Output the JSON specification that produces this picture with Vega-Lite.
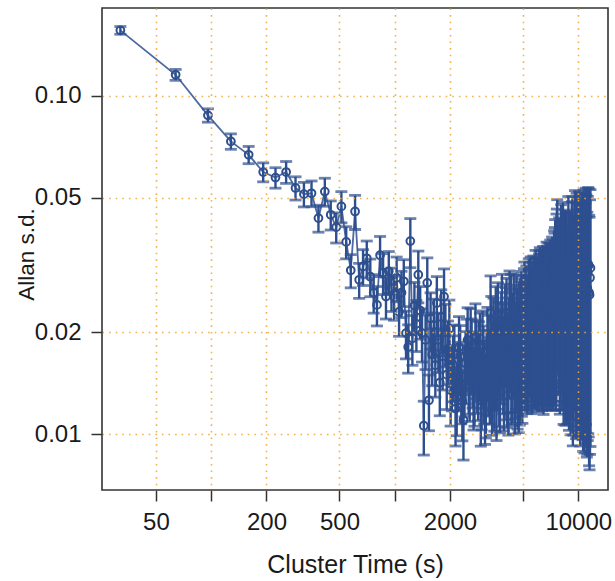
{
"$schema": "https://vega.github.io/schema/vega-lite/v6.json",
"width": 506, "height": 482,
"autosize": {"type": "none"},
"padding": {"left": 102, "top": 8, "right": 7, "bottom": 91},
"background": "white",
"data": {"values": [
{"t":32,"adev":0.156,"err":0.0041},{"t":64,"adev":0.1153,"err":0.00427},{"t":96,"adev":0.0875,"err":0.00397},{"t":128,"adev":0.0733,"err":0.00384},
{"t":160,"adev":0.0669,"err":0.00392},{"t":192,"adev":0.0595,"err":0.00383},{"t":224,"adev":0.0573,"err":0.00398},{"t":256,"adev":0.0595,"err":0.00442},
{"t":288,"adev":0.0534,"err":0.00421},{"t":320,"adev":0.0512,"err":0.00426},{"t":352,"adev":0.0515,"err":0.0045},{"t":384,"adev":0.0435,"err":0.00397},
{"t":416,"adev":0.0521,"err":0.00495},{"t":448,"adev":0.0445,"err":0.00439},{"t":480,"adev":0.0409,"err":0.00418},{"t":512,"adev":0.0471,"err":0.00498},
{"t":544,"adev":0.037,"err":0.00403},{"t":576,"adev":0.0305,"err":0.00343},{"t":608,"adev":0.0455,"err":0.00525},{"t":640,"adev":0.0286,"err":0.00339},
{"t":672,"adev":0.0313,"err":0.0038},{"t":704,"adev":0.0331,"err":0.00412},{"t":736,"adev":0.0292,"err":0.00372},{"t":768,"adev":0.0262,"err":0.00341},
{"t":800,"adev":0.0241,"err":0.00321},{"t":832,"adev":0.0338,"err":0.00459},{"t":864,"adev":0.03,"err":0.00415},{"t":896,"adev":0.0255,"err":0.0036},
{"t":928,"adev":0.0303,"err":0.00435},{"t":960,"adev":0.027,"err":0.00395},{"t":992,"adev":0.0255,"err":0.00379},{"t":1024,"adev":0.029,"err":0.00438},
{"t":1056,"adev":0.023,"err":0.00353},{"t":1088,"adev":0.0262,"err":0.00409},{"t":1120,"adev":0.0283,"err":0.00448},{"t":1152,"adev":0.0199,"err":0.0032},
{"t":1184,"adev":0.0181,"err":0.00295},{"t":1216,"adev":0.0372,"err":0.00616},{"t":1248,"adev":0.0192,"err":0.00322},{"t":1280,"adev":0.024,"err":0.00408},
{"t":1312,"adev":0.0212,"err":0.00365},{"t":1344,"adev":0.0296,"err":0.00516},{"t":1376,"adev":0.0232,"err":0.0041},{"t":1408,"adev":0.0199,"err":0.00356},
{"t":1440,"adev":0.0106,"err":0.00192},{"t":1472,"adev":0.019,"err":0.00348},{"t":1504,"adev":0.028,"err":0.00519},{"t":1536,"adev":0.0126,"err":0.00236},
{"t":1568,"adev":0.022,"err":0.00417},{"t":1600,"adev":0.0172,"err":0.00329},{"t":1632,"adev":0.021,"err":0.00406},{"t":1664,"adev":0.016,"err":0.00313},
{"t":1696,"adev":0.0244,"err":0.00482},{"t":1728,"adev":0.019,"err":0.00379},{"t":1760,"adev":0.0142,"err":0.00286},{"t":1792,"adev":0.0222,"err":0.00452},
{"t":1824,"adev":0.017,"err":0.00349},{"t":1856,"adev":0.0255,"err":0.00529},{"t":1888,"adev":0.02,"err":0.00419},{"t":1920,"adev":0.015,"err":0.00317},
{"t":1984,"adev":0.0205,"err":0.00441},{"t":2048,"adev":0.015,"err":0.00328},{"t":2112,"adev":0.0172,"err":0.00383},{"t":2176,"adev":0.0128,"err":0.0029},
{"t":2240,"adev":0.0181,"err":0.00416},{"t":2304,"adev":0.014,"err":0.00327},{"t":2368,"adev":0.011,"err":0.00261},{"t":2432,"adev":0.0162,"err":0.0039},
{"t":2496,"adev":0.019,"err":0.00464},{"t":2560,"adev":0.0145,"err":0.00359},{"t":2624,"adev":0.0175,"err":0.0044},{"t":2688,"adev":0.0138,"err":0.00351},
{"t":2752,"adev":0.0193,"err":0.00498},{"t":2816,"adev":0.0156,"err":0.00408},{"t":2880,"adev":0.017,"err":0.0045},{"t":2944,"adev":0.0126,"err":0.00338},
{"t":3008,"adev":0.0182,"err":0.00494},{"t":3072,"adev":0.0148,"err":0.00407},{"t":3136,"adev":0.0135,"err":0.00375},{"t":3200,"adev":0.0185,"err":0.0052},
{"t":3264,"adev":0.0158,"err":0.0045},{"t":3328,"adev":0.0228,"err":0.00656},{"t":3392,"adev":0.014,"err":0.00407},{"t":3456,"adev":0.0195,"err":0.00573},
{"t":3520,"adev":0.0168,"err":0.00499},{"t":3584,"adev":0.0137,"err":0.00412},{"t":3648,"adev":0.0215,"err":0.00653},{"t":3712,"adev":0.0152,"err":0.00466},
{"t":3776,"adev":0.0178,"err":0.00552},{"t":3840,"adev":0.0226,"err":0.00708},
{"t":3936,"adev":0.015,"err":0.00477},{"t":4032,"adev":0.0205,"err":0.00661},{"t":4128,"adev":0.0172,"err":0.00562},{"t":4224,"adev":0.0228,"err":0.00756},
{"t":4320,"adev":0.016,"err":0.00538},{"t":4416,"adev":0.0195,"err":0.00665},{"t":4512,"adev":0.0153,"err":0.00528},{"t":4608,"adev":0.0218,"err":0.00763},
{"t":4704,"adev":0.018,"err":0.00638},{"t":4800,"adev":0.0166,"err":0.00596},{"t":4896,"adev":0.0222,"err":0.00807},{"t":4992,"adev":0.0192,"err":0.00707},
{"t":5088,"adev":0.0235,"err":0.00875},{"t":5184,"adev":0.02,"err":0.00754},{"t":5280,"adev":0.0186,"err":0.00709},{"t":5376,"adev":0.0238,"err":0.00918},
{"t":5472,"adev":0.021,"err":0.0082},{"t":5568,"adev":0.019,"err":0.0075},{"t":5664,"adev":0.023,"err":0.00918},{"t":5760,"adev":0.0205,"err":0.00828},
{"t":5856,"adev":0.0248,"err":0.01012},{"t":5952,"adev":0.0214,"err":0.00883},{"t":6048,"adev":0.02,"err":0.00834},{"t":6144,"adev":0.0245,"err":0.01033},
{"t":6240,"adev":0.0222,"err":0.00946},{"t":6336,"adev":0.0206,"err":0.00887},{"t":6432,"adev":0.025,"err":0.01088},{"t":6528,"adev":0.0228,"err":0.01002},
{"t":6624,"adev":0.0218,"err":0.00968},{"t":6720,"adev":0.0255,"err":0.01144},{"t":6816,"adev":0.0236,"err":0.01069},{"t":6912,"adev":0.0222,"err":0.01016},
{"t":7008,"adev":0.025,"err":0.01155},{"t":7104,"adev":0.0232,"err":0.01082},{"t":7200,"adev":0.026,"err":0.01225},{"t":7296,"adev":0.0225,"err":0.0107},
{"t":7392,"adev":0.027,"err":0.01296},{"t":7488,"adev":0.029,"err":0.01406},{"t":7584,"adev":0.0245,"err":0.01199},{"t":7680,"adev":0.033,"err":0.0163},
{"t":7808,"adev":0.0262,"err":0.0131},{"t":7936,"adev":0.0232,"err":0.01174},{"t":8064,"adev":0.0315,"err":0.01614},{"t":8192,"adev":0.0245,"err":0.0127},
{"t":8320,"adev":0.0225,"err":0.01181},{"t":8448,"adev":0.03,"err":0.01593},{"t":8576,"adev":0.027,"err":0.01451},{"t":8704,"adev":0.0235,"err":0.01278},
{"t":8832,"adev":0.0325,"err":0.01788},{"t":8960,"adev":0.025,"err":0.01391},{"t":9088,"adev":0.0228,"err":0.01284},{"t":9216,"adev":0.031,"err":0.01765},
{"t":9344,"adev":0.0218,"err":0.01256},{"t":9472,"adev":0.028,"err":0.01631},{"t":9600,"adev":0.033,"err":0.01945},{"t":9728,"adev":0.024,"err":0.0143},
{"t":9856,"adev":0.03,"err":0.01808},{"t":9984,"adev":0.0262,"err":0.01597},{"t":10112,"adev":0.0322,"err":0.01984},{"t":10240,"adev":0.0245,"err":0.01527},
{"t":10368,"adev":0.029,"err":0.01827},{"t":10496,"adev":0.0315,"err":0.02007},{"t":10624,"adev":0.025,"err":0.0161},{"t":10752,"adev":0.031,"err":0.02019},
{"t":10880,"adev":0.0275,"err":0.01811},{"t":11008,"adev":0.032,"err":0.02131},{"t":11136,"adev":0.0262,"err":0.01764},{"t":11264,"adev":0.03,"err":0.02042},
{"t":11392,"adev":0.0315,"err":0.02168},{"t":11520,"adev":0.0258,"err":0.01795},{"t":11648,"adev":0.031,"err":0.0218},
{"t":1952,"adev":0.0178,"err":0.0038},{"t":2016,"adev":0.0135,"err":0.00293},{"t":2080,"adev":0.016,"err":0.00353},{"t":2144,"adev":0.0119,"err":0.00267},
{"t":2208,"adev":0.0152,"err":0.00347},{"t":2272,"adev":0.017,"err":0.00394},{"t":2336,"adev":0.0125,"err":0.00294},{"t":2400,"adev":0.0148,"err":0.00354},
{"t":2464,"adev":0.0176,"err":0.00427},{"t":2528,"adev":0.0152,"err":0.00374},{"t":2592,"adev":0.0188,"err":0.00469},{"t":2656,"adev":0.016,"err":0.00405},
{"t":2720,"adev":0.0142,"err":0.00364},{"t":2784,"adev":0.0172,"err":0.00447},{"t":2848,"adev":0.0149,"err":0.00392},{"t":2912,"adev":0.018,"err":0.0048},
{"t":2976,"adev":0.0141,"err":0.0038},{"t":3040,"adev":0.0164,"err":0.00448},{"t":3104,"adev":0.0129,"err":0.00357},{"t":3168,"adev":0.0158,"err":0.00442},
{"t":3232,"adev":0.0175,"err":0.00495},{"t":3296,"adev":0.015,"err":0.00429},{"t":3360,"adev":0.0198,"err":0.00573},{"t":3424,"adev":0.0166,"err":0.00486},
{"t":3488,"adev":0.0145,"err":0.00429},{"t":3552,"adev":0.021,"err":0.00628},{"t":3616,"adev":0.017,"err":0.00514},{"t":3680,"adev":0.0188,"err":0.00574},
{"t":3744,"adev":0.0146,"err":0.0045},{"t":3808,"adev":0.02,"err":0.00623},
{"t":3872,"adev":0.0185,"err":0.00582},{"t":3968,"adev":0.0162,"err":0.00517},{"t":4064,"adev":0.0218,"err":0.00706},{"t":4160,"adev":0.0148,"err":0.00486},
{"t":4256,"adev":0.02,"err":0.00666},{"t":4352,"adev":0.0175,"err":0.00591},{"t":4448,"adev":0.0222,"err":0.0076},{"t":4544,"adev":0.017,"err":0.0059},
{"t":4640,"adev":0.02,"err":0.00703},{"t":4736,"adev":0.0157,"err":0.00559},{"t":4832,"adev":0.0212,"err":0.00764},{"t":4928,"adev":0.0178,"err":0.0065},
{"t":5024,"adev":0.0215,"err":0.00794},{"t":5120,"adev":0.0188,"err":0.00703},{"t":5216,"adev":0.0228,"err":0.00863},{"t":5312,"adev":0.0196,"err":0.0075},
{"t":5408,"adev":0.0222,"err":0.0086},{"t":5504,"adev":0.024,"err":0.00941},{"t":5600,"adev":0.0198,"err":0.00785},{"t":5696,"adev":0.024,"err":0.00962},
{"t":5792,"adev":0.0212,"err":0.00859},{"t":5888,"adev":0.02,"err":0.00819},{"t":5984,"adev":0.0236,"err":0.00978},{"t":6080,"adev":0.0208,"err":0.00871},
{"t":6176,"adev":0.025,"err":0.01058},{"t":6272,"adev":0.0215,"err":0.00919},{"t":6368,"adev":0.0238,"err":0.01028},{"t":6464,"adev":0.0203,"err":0.00886},
{"t":6560,"adev":0.024,"err":0.01058},{"t":6656,"adev":0.0226,"err":0.01007},{"t":6752,"adev":0.0248,"err":0.01116},{"t":6848,"adev":0.022,"err":0.01},
{"t":6944,"adev":0.024,"err":0.01102},{"t":7040,"adev":0.0256,"err":0.01187},{"t":7136,"adev":0.0222,"err":0.01039},{"t":7232,"adev":0.0248,"err":0.01172},
{"t":7328,"adev":0.0232,"err":0.01107},{"t":7424,"adev":0.0265,"err":0.01276},{"t":7520,"adev":0.0238,"err":0.01157},{"t":7616,"adev":0.03,"err":0.01472},
{"t":3904,"adev":0.0168,"err":0.00531},{"t":4000,"adev":0.021,"err":0.00674},{"t":4096,"adev":0.0155,"err":0.00505},{"t":4192,"adev":0.019,"err":0.00627},
{"t":4288,"adev":0.0222,"err":0.00743},{"t":4384,"adev":0.0163,"err":0.00553},{"t":4480,"adev":0.0205,"err":0.00705},{"t":4576,"adev":0.0182,"err":0.00634},
{"t":4672,"adev":0.016,"err":0.00565},{"t":4768,"adev":0.0208,"err":0.00744},{"t":4864,"adev":0.0185,"err":0.0067},{"t":4960,"adev":0.017,"err":0.00623},
{"t":5056,"adev":0.0225,"err":0.00835},{"t":5152,"adev":0.0195,"err":0.00732},{"t":5248,"adev":0.0212,"err":0.00806},{"t":5344,"adev":0.019,"err":0.0073},
{"t":5440,"adev":0.0232,"err":0.00902},{"t":5536,"adev":0.0205,"err":0.00806},{"t":5632,"adev":0.0218,"err":0.00867},{"t":5728,"adev":0.02,"err":0.00805},
{"t":5824,"adev":0.0235,"err":0.00956},{"t":5920,"adev":0.0222,"err":0.00913},{"t":6016,"adev":0.0205,"err":0.00852},{"t":6112,"adev":0.024,"err":0.01008},
{"t":6208,"adev":0.0212,"err":0.009},{"t":6304,"adev":0.0245,"err":0.01051},{"t":6400,"adev":0.0225,"err":0.00975},{"t":6496,"adev":0.021,"err":0.0092},
{"t":6592,"adev":0.0246,"err":0.01089},{"t":6688,"adev":0.023,"err":0.01028},{"t":6784,"adev":0.0215,"err":0.00971},{"t":6880,"adev":0.0252,"err":0.01149},
{"t":6976,"adev":0.0228,"err":0.0105},{"t":7072,"adev":0.0245,"err":0.01139},{"t":7168,"adev":0.0222,"err":0.01042},{"t":7264,"adev":0.0255,"err":0.01209},
{"t":7360,"adev":0.024,"err":0.01149},{"t":7456,"adev":0.0275,"err":0.01329},{"t":7552,"adev":0.023,"err":0.01122},{"t":7648,"adev":0.031,"err":0.01526},
{"t":7872,"adev":0.029,"err":0.01459},{"t":8000,"adev":0.024,"err":0.01222},{"t":8128,"adev":0.0275,"err":0.01417},{"t":8256,"adev":0.0318,"err":0.01659},
{"t":8384,"adev":0.0252,"err":0.01331},{"t":8512,"adev":0.0228,"err":0.01218},{"t":8640,"adev":0.0295,"err":0.01595},{"t":8768,"adev":0.0262,"err":0.01433},
{"t":8896,"adev":0.023,"err":0.01273},{"t":9024,"adev":0.029,"err":0.01623},{"t":9152,"adev":0.0255,"err":0.01444},{"t":9280,"adev":0.032,"err":0.01833},
{"t":9408,"adev":0.0236,"err":0.01367},{"t":9536,"adev":0.0305,"err":0.01787},{"t":9664,"adev":0.0258,"err":0.01529},{"t":9792,"adev":0.0322,"err":0.0193},
{"t":9920,"adev":0.025,"err":0.01515},{"t":10048,"adev":0.0285,"err":0.01747},{"t":10176,"adev":0.031,"err":0.01921},{"t":10304,"adev":0.0262,"err":0.01642},
{"t":10432,"adev":0.03,"err":0.01901},{"t":10560,"adev":0.0268,"err":0.01717},{"t":10688,"adev":0.032,"err":0.02073},{"t":10816,"adev":0.0255,"err":0.0167},
{"t":10944,"adev":0.029,"err":0.0192},{"t":11072,"adev":0.0305,"err":0.02042},{"t":11200,"adev":0.027,"err":0.01828},{"t":11328,"adev":0.0318,"err":0.02176},
{"t":11456,"adev":0.0262,"err":0.01813},{"t":11584,"adev":0.029,"err":0.02028}
]},
"encoding": {
  "x": {"field": "t", "type": "quantitative",
    "scale": {"type": "log", "domain": [25.41, 14520], "nice": false, "zero": false},
    "axis": {"title": "Cluster Time (s)", "values": [50,100,200,500,1000,2000,5000,10000], "format": "d",
      "labelExpr": "indexof([100,1000,5000], datum.value) >= 0 ? '' : datum.label",
      "grid": true, "zindex": 1, "labelPadding": 9, "titlePadding": 18, "titleFontSize": 25}},
  "y": {"field": "adev", "type": "quantitative",
    "scale": {"type": "log", "domain": [0.006844, 0.1816], "nice": false, "zero": false},
    "axis": {"title": "Allan s.d.", "values": [0.01,0.02,0.05,0.1], "format": ".2f",
      "grid": true, "zindex": 1, "labelPadding": 10, "titleFontSize": 22.5,
      "titleX": -69, "titleY": 246, "titleAngle": -90, "titleBaseline": "alphabetic", "titleAlign": "center"}}
},
"layer": [
  {"mark": {"type": "errorbar", "color": "#2d4f8f", "thickness": 2.4, "ticks": {"size": 12, "thickness": 2.8, "color": "#2d4f8f"}},
   "encoding": {"yError": {"field": "err"}}},
  {"mark": {"type": "line", "color": "#2d4f8f", "strokeWidth": 1.8, "opacity": 0.85}, "encoding": {}},
  {"mark": {"type": "point", "filled": false, "color": "#2d4f8f", "size": 60, "strokeWidth": 2, "opacity": 1}, "encoding": {}}
],
"config": {
  "view": {"stroke": "#333333", "strokeWidth": 1.6},
  "axis": {"domain": false, "gridColor": "#f2a838", "gridDash": [1.6, 5], "gridWidth": 1.6, "gridOpacity": 0.9,
    "tickColor": "#333333", "tickWidth": 1.5, "tickSize": 11,
    "labelFont": "Liberation Sans", "labelFontSize": 24, "labelColor": "#1a1a1a",
    "titleFont": "Liberation Sans", "titleFontSize": 22, "titleFontWeight": "normal", "titleColor": "#1a1a1a"}
}
}
